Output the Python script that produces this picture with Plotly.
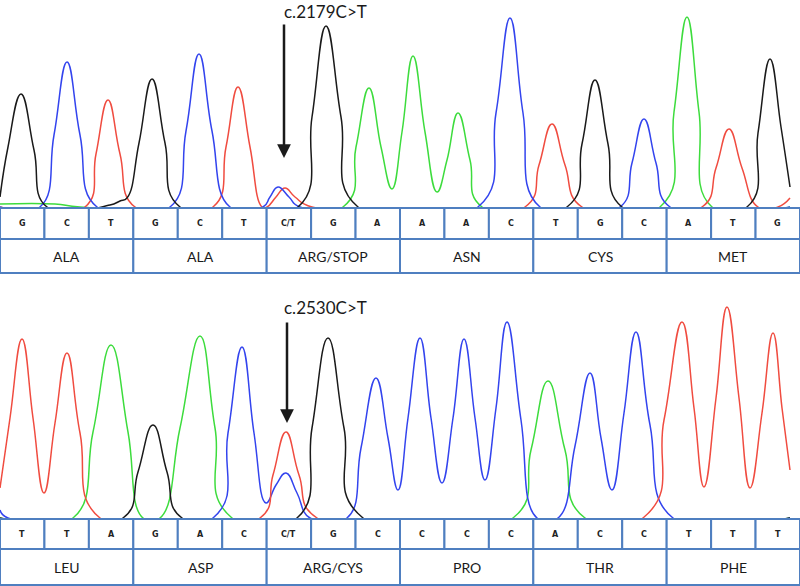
import plotly.graph_objects as go

# scan position (0..800) and signal height above baseline
# ---------------- c.2179C>T panel ----------------
top_bases = ["G", "C", "T", "G", "C", "T", "C/T", "G", "A",
             "A", "A", "C", "T", "G", "C", "A", "T", "G"]
top_codons = ["ALA", "ALA", "ARG/STOP", "ASN", "CYS", "MET"]

top_g_x = [0, 8, 21, 34, 47, 110, 120, 127, 139, 152, 165, 180, 298, 312, 326, 341, 358,
           567, 582, 595, 608, 622, 747, 758, 770, 781, 790]
top_g_y = [10, 60, 113, 57, 0, 2, 6, 9, 64, 128, 64, 0, 0, 90, 181, 90, 0,
           0, 63, 127, 63, 0, 0, 74, 148, 80, 20]
top_c_x = [0, 40, 54, 67, 80, 97, 170, 186, 199, 212, 230, 263, 270, 278, 289, 300,
           478, 496, 510, 523, 540, 620, 632, 644, 656, 670, 790]
top_c_y = [0, 0, 72, 145, 72, 0, 0, 76, 153, 76, 0, 0, 10, 20, 10, 0,
           0, 94, 189, 94, 0, 0, 44, 88, 44, 0, 0]
top_t_x = [0, 85, 96, 108, 120, 135, 213, 226, 238, 250, 262, 267, 276, 285, 295, 312,
           525, 539, 552, 565, 582, 702, 716, 729, 742, 758, 778, 790]
top_t_y = [0, 0, 53, 107, 53, 0, 0, 60, 120, 60, 0, 0, 10, 19, 10, 0,
           0, 42, 83, 42, 0, 0, 39, 78, 39, 0, 0, 9]
top_a_x = [0, 55, 80, 343, 356, 369, 381, 392, 402, 413, 425, 437, 447, 458, 470, 482,
           660, 674, 687, 699, 712, 790]
top_a_y = [3, 3, 0, 0, 60, 119, 60, 18, 75, 151, 75, 15, 47, 94, 47, 0,
           0, 95, 190, 95, 0, 0]

# ---------------- c.2530C>T panel ----------------
bot_bases = ["T", "T", "A", "G", "A", "C", "C/T", "G", "C",
             "C", "C", "C", "A", "C", "C", "T", "T", "T"]
bot_codons = ["LEU", "ASP", "ARG/CYS", "PRO", "THR", "PHE"]

bot_g_x = [0, 123, 138, 153, 167, 182, 297, 312, 328, 344, 363, 790]
bot_g_y = [0, 0, 46, 93, 46, 0, 0, 90, 180, 90, 0, 0]
bot_c_x = [0, 8, 213, 228, 242, 254, 266, 276, 286, 297, 310,
           347, 361, 376, 388, 398, 408, 420, 431, 442, 453, 464, 475, 485, 496, 507, 521, 537,
           558, 575, 590, 601, 612, 624, 636, 650, 673, 790]
bot_c_y = [8, 0, 0, 85, 171, 85, 15, 33, 45, 25, 0,
           0, 70, 140, 80, 28, 100, 180, 100, 35, 100, 179, 100, 38, 110, 196, 98, 0,
           0, 72, 145, 80, 28, 105, 186, 93, 0, 0]
bot_t_x = [0, 10, 22, 33, 44, 55, 67, 80, 100, 260, 273, 286, 299, 317,
           643, 664, 682, 694, 704, 716, 727, 739, 750, 762, 773, 782, 790]
bot_t_y = [30, 100, 179, 100, 25, 95, 165, 85, 0, 0, 43, 86, 43, 0,
           0, 98, 196, 110, 31, 120, 211, 120, 30, 105, 185, 110, 48]
bot_a_x = [0, 73, 93, 111, 128, 143, 160, 180, 200, 215, 232, 513, 531, 548, 565, 585, 790]
bot_a_y = [0, 0, 86, 173, 86, 0, 0, 90, 182, 90, 0, 0, 68, 137, 68, 0, 0]

COLORS = {"G": "#1a1a1a", "C": "#3344ee", "T": "#f04c40", "A": "#3ddc3d"}
BORDER = "#4f7fc0"
W, H = 800, 586
CELL = W / 18

fig = go.Figure()


def add_panel(fig, xa, ya, channels, bases, codons, ybase_row, ybot):
    for base, xs, ys in channels:
        fig.add_trace(go.Scatter(
            x=xs, y=ys, mode="lines", xaxis=xa, yaxis=ya,
            line=dict(color=COLORS[base], width=1.5, shape="spline", smoothing=1.3),
            hoverinfo="skip", showlegend=False,
        ))
    # base row
    for i, b in enumerate(bases):
        fig.add_shape(type="rect", xref=xa, yref=ya, x0=i * CELL, x1=(i + 1) * CELL,
                      y0=-1, y1=ybase_row, fillcolor="white",
                      line=dict(color=BORDER, width=2), layer="above")
        fig.add_annotation(x=(i + 0.5) * CELL, y=(ybase_row - 1) / 2, xref=xa, yref=ya,
                           text="<b>%s</b>" % b, showarrow=False,
                           font=dict(family="DejaVu Sans", size=8, color="#222"))
    # codon row
    for j, c in enumerate(codons):
        fig.add_shape(type="rect", xref=xa, yref=ya, x0=j * 3 * CELL, x1=(j + 1) * 3 * CELL,
                      y0=ybase_row, y1=ybot, fillcolor="white",
                      line=dict(color=BORDER, width=2), layer="above")
        fig.add_annotation(x=(j + 0.5) * 3 * CELL, y=(ybase_row + ybot) / 2, xref=xa, yref=ya,
                           text=c, showarrow=False,
                           font=dict(family="Lato", size=14, color="#1a1a1a"))


add_panel(fig, "x", "y",
          [("A", top_a_x, top_a_y), ("T", top_t_x, top_t_y),
           ("C", top_c_x, top_c_y), ("G", top_g_x, top_g_y)],
          top_bases, top_codons, -32, -66)
add_panel(fig, "x2", "y2",
          [("A", bot_a_x, bot_a_y), ("C", bot_c_x, bot_c_y),
           ("T", bot_t_x, bot_t_y), ("G", bot_g_x, bot_g_y)],
          bot_bases, bot_codons, -31, -67)

# mutation labels and arrows
for xa, ya, label, ytext, xarr, ytail, yhead in [
    ("x", "y", "c.2179C>T", 196, 284, 184, 49),
    ("x2", "y2", "c.2530C>T", 211, 287, 197, 95),
]:
    fig.add_annotation(x=325, y=ytext, xref=xa, yref=ya, text=label, showarrow=False,
                       font=dict(family="Lato", size=17, color="#1a1a1a"))
    fig.add_annotation(x=xarr, y=yhead, ax=xarr, ay=ytail, xref=xa, yref=ya,
                       axref=xa, ayref=ya, text="", showarrow=True,
                       arrowhead=2, arrowsize=1.1, arrowwidth=2.5, arrowcolor="#1a1a1a")

# one data unit = one pixel in both panels
top_dom = [0.52, 1.0]
bot_dom = [0.0, 0.515]
top_px = (1 - top_dom[0]) * H
bot_px = (bot_dom[1] - bot_dom[0]) * H
ax_common = dict(visible=False, fixedrange=True)

fig.update_layout(
    width=W, height=H,
    margin=dict(l=0, r=0, t=0, b=0),
    plot_bgcolor="white", paper_bgcolor="white",
    xaxis=dict(range=[0, W], domain=[0, 1], anchor="y", **ax_common),
    yaxis=dict(range=[207 - top_px, 207], domain=top_dom, anchor="x", **ax_common),
    xaxis2=dict(range=[0, W], domain=[0, 1], anchor="y2", **ax_common),
    yaxis2=dict(range=[518 - H, 518 - H + bot_px], domain=bot_dom, anchor="x2", **ax_common),
    showlegend=False,
)

# drop the browser's default 8px body margin so the figure fills the window
fig.write_html("out.html", config={"displayModeBar": False},
               post_script="document.body.style.margin='0';")
